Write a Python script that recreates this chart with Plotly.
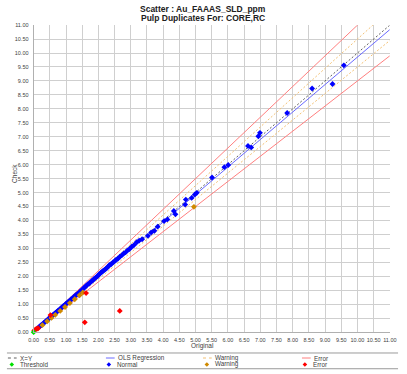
import plotly.graph_objects as go

# ---- data ----
normal_x = [0.15,0.19,0.23,0.27,0.31,0.35,0.39,0.43,0.47,0.51,0.55,0.59,0.63,0.67,0.71,0.75,0.79,0.83,0.87,0.91,
            0.95,0.99,1.03,1.07,1.11,1.15,1.19,1.23,1.27,1.31,1.35,1.39,1.43,1.47,1.51,1.55,1.59,1.63,1.67,1.71,
            1.75,1.79,1.83,1.87,1.91,1.95,1.99,2.03,2.07,2.11,2.15,2.19,2.23,2.27,2.31,2.35,
            2.40,2.45,2.50,2.55,2.60,2.66,2.72,2.78,2.84,2.90,2.96,3.03,3.10,3.18,3.26,
            3.35,3.53,3.63,3.73,3.83,4.03,4.13,4.33,4.38,4.68,4.70,4.88,4.98,5.04,5.51,5.89,6.01,6.62,6.72,
            6.94,6.99,7.83,8.60,9.23,9.58]
normal_y = [0.17,0.20,0.25,0.28,0.33,0.36,0.41,0.44,0.49,0.53,0.56,0.61,0.64,0.69,0.72,0.77,0.80,0.85,0.88,0.93,
            0.96,1.01,1.04,1.09,1.12,1.17,1.20,1.25,1.29,1.33,1.37,1.40,1.45,1.49,1.53,1.58,1.62,1.67,1.71,1.74,
            1.78,1.83,1.86,1.91,1.95,1.98,2.03,2.08,2.12,2.16,2.20,2.23,2.27,2.31,2.36,2.41,
            2.44,2.50,2.54,2.60,2.63,2.70,2.75,2.82,2.86,2.93,2.98,3.06,3.12,3.22,3.28,
            3.33,3.45,3.57,3.63,3.78,3.98,4.04,4.34,4.22,4.57,4.75,4.81,4.93,4.99,5.54,5.91,5.99,6.67,6.62,
            7.02,7.14,7.85,8.73,8.89,9.56]
warn_x = [0.27,0.42,0.55,0.67,0.82,0.97,1.12,1.27,1.42,1.52,4.95]
warn_y = [0.25,0.39,0.51,0.62,0.76,0.90,1.04,1.18,1.32,1.42,4.49]
err_x = [0.02,0.06,0.10,0.14,0.52,1.62,1.58,2.66]
err_y = [0.06,0.10,0.12,0.14,0.61,1.40,0.35,0.76]
thr_x = [0.0]
thr_y = [0.0]

line_x = [0.0, 11.0]
warning_pct = 0.05
error_pct = 0.10
ols_slope = 0.985
ols_intercept = 0.005
axis_max = 11.0
tick_step = 0.5

W, H = 407, 374
PX0, PX1 = 29.5, 396.5   # plot left/right px
PY0, PY1 = 22.5, 334.5   # plot top/bottom px

def px(x):
    return x / W

def py(y):
    return 1 - y / H

C_XY = "#606060"
C_OLS = "#6a6aff"
C_WARN_L = "#f2c074"
C_ERR_L = "#ff7f7f"
C_NORM = "#0000ff"
C_WARN = "#d08a00"
C_ERR = "#ff0000"
C_THR = "#00e000"

fig = go.Figure()

def add_line(ys, color, dash, width=1):
    fig.add_trace(go.Scatter(x=line_x, y=ys, mode="lines",
                             line=dict(color=color, dash=dash, width=width),
                             showlegend=False, hoverinfo="skip"))

add_line([x * (1 + error_pct) for x in line_x], C_ERR_L, "solid")
add_line([x * (1 - error_pct) for x in line_x], C_ERR_L, "solid")
add_line([x * (1 + warning_pct) for x in line_x], C_WARN_L, "2px,2px")
add_line([x * (1 - warning_pct) for x in line_x], C_WARN_L, "2px,2px")
add_line([x for x in line_x], C_XY, "2px,2px")
add_line([ols_slope * x + ols_intercept for x in line_x], C_OLS, "solid")

def add_pts(xs, ys, color):
    fig.add_trace(go.Scatter(x=xs, y=ys, mode="markers",
                             marker=dict(color=color, size=4.5, symbol="diamond", line=dict(width=0)),
                             showlegend=False, cliponaxis=False))

add_pts(normal_x, normal_y, C_NORM)
add_pts(warn_x, warn_y, C_WARN)
add_pts(err_x, err_y, C_ERR)
add_pts(thr_x, thr_y, C_THR)

ticks = [round(i * tick_step, 2) for i in range(int(axis_max / tick_step) + 1)]
tick_text = [f"{t:.2f}" for t in ticks]

axis_common = dict(range=[0, axis_max], tickmode="array", tickvals=ticks, ticktext=tick_text,
                   showgrid=True, gridcolor="#cfcfcf", gridwidth=1, zeroline=False,
                   showline=True, linecolor="#b0b0b0", linewidth=1, ticks="",
                   tickfont=dict(size=5.5, color="#404040", family="Arial"), fixedrange=True)

fig.update_layout(
    width=W, height=H,
    margin=dict(l=0, r=0, t=0, b=0),
    paper_bgcolor="white", plot_bgcolor="rgba(0,0,0,0)",
    xaxis=dict(domain=[px(PX0), px(PX1)], ticklabelstandoff=2, **axis_common),
    yaxis=dict(domain=[py(PY1), py(PY0)], ticklabelstandoff=3, **axis_common),
    showlegend=False,
    font=dict(family="Arial", color="#333333"),
)

ann = []
ann.append(dict(text="<b>Scatter : Au_FAAAS_SLD_ppm</b>", x=px(203.5), y=py(5.8), xref="paper", yref="paper",
                showarrow=False, font=dict(size=8.5, color="#202020"), xanchor="center", yanchor="middle"))
ann.append(dict(text="<b>Pulp Duplicates For: CORE,RC</b>", x=px(203.5), y=py(15.6), xref="paper", yref="paper",
                showarrow=False, font=dict(size=8.5, color="#202020"), xanchor="center", yanchor="middle"))
ann.append(dict(text="Check", x=px(10), y=py(173), xref="paper", yref="paper", textangle=-90,
                showarrow=False, font=dict(size=6.5, color="#404040"), xanchor="center", yanchor="middle"))
ann.append(dict(text="Original", x=px(203), y=py(349), xref="paper", yref="paper",
                showarrow=False, font=dict(size=6.5, color="#404040"), xanchor="center", yanchor="middle"))

shapes = []
# legend separators
for yy in (355.7, 371.7):
    shapes.append(dict(type="line", xref="paper", yref="paper", x0=px(2), x1=px(405), y0=py(yy), y1=py(yy),
                       line=dict(color="#9a9a9a", width=1)))

row1, row2 = 360.8, 367.3
legend_lines = [(3, "X=Y", C_XY, "dot"), (104, "OLS Regression", C_OLS, "solid"),
                (204, "Warning", C_WARN_L, "dot"), (306, "Error", C_ERR_L, "solid")]
for x0, label, color, dash in legend_lines:
    shapes.append(dict(type="line", xref="paper", yref="paper", x0=px(x0), x1=px(x0 + 9),
                       y0=py(row1), y1=py(row1), line=dict(color=color, width=1, dash=dash)))
    ann.append(dict(text=label, x=px(x0 + 10.5), y=py(row1), xref="paper", yref="paper", showarrow=False,
                    font=dict(size=6.3, color="#404040"), xanchor="left", yanchor="middle"))

legend_marks = [(7, "Threshold", C_THR), (107, "Normal", C_NORM), (208, "Warning", C_WARN), (309, "Error", C_ERR)]
leg_mx, leg_my, leg_mc = [], [], []
for xm, label, color in legend_marks:
    leg_mx.append(xm)
    leg_my.append(row2)
    leg_mc.append(color)
    ann.append(dict(text=label, x=px(xm + 6.5), y=py(row2), xref="paper", yref="paper", showarrow=False,
                    font=dict(size=6.3, color="#404040"), xanchor="left", yanchor="middle"))

fig.add_trace(go.Scatter(x=leg_mx, y=leg_my, mode="markers", xaxis="x2", yaxis="y2",
                         marker=dict(color=leg_mc, size=3.5, symbol="diamond", line=dict(width=0)),
                         showlegend=False, hoverinfo="skip", cliponaxis=False))
fig.update_layout(
    xaxis2=dict(domain=[0, 1], range=[0, W], visible=False, anchor="y2", fixedrange=True),
    yaxis2=dict(domain=[0, 1], range=[H, 0], visible=False, anchor="x2", fixedrange=True),
    annotations=ann, shapes=shapes,
)

fig.write_html("out.html")
